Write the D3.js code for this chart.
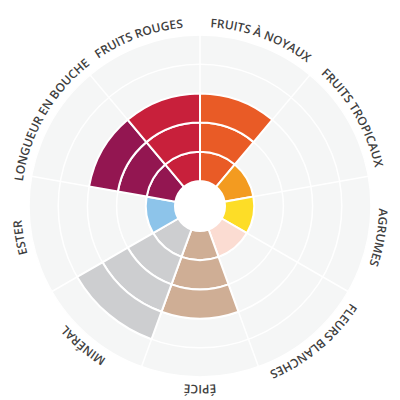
<!DOCTYPE html>
<html>
<head>
<meta charset="utf-8">
<script src="https://cdn.jsdelivr.net/npm/d3@7"></script>
<style>
  html, body { margin: 0; padding: 0; background: #fff; }
  svg { display: block; }
  .label { font-family: 'Open Sans', sans-serif; font-size: 12px; font-weight: 600; fill: #3f3f3f; }
</style>
</head>
<body>
<script>
var categories = ['FRUITS À NOYAUX', 'FRUITS TROPICAUX', 'AGRUMES', 'FLEURS BLANCHES', 'ÉPICÉ',
    'MINÉRAL', 'ESTER', 'LONGUEUR EN BOUCHE', 'FRUITS ROUGES']
var values = [3, 1, 1, 1, 3, 4, 1, 3, 3]
var colors = ['#e95b26', '#f39b20', '#fddd27', '#fbdcd2', '#cfae95',
    '#cdced0', '#8dc4ea', '#931651', '#c8203b']
var levels = [1, 2, 3, 4, 5]

var width = 400
var height = 400
var cx = 200
var cy = 206
var inner = 25
var outer = 171
var labelR = 179

var angle = d3.scaleBand()
    .domain(categories)
    .range([0, 2 * Math.PI])
    .padding(0)

var radius = d3.scaleLinear()
    .domain([0, 5])
    .range([inner, outer])

var svg = d3.select('body').append('svg')
    .attr('width', width)
    .attr('height', height)
    .append('g')
    .attr('transform', 'translate(' + cx + ',' + cy + ')')

// background disc
svg.append('circle')
    .attr('r', outer)
    .style('fill', '#f5f6f6')

// grid rings
svg.append('g')
    .selectAll('circle')
    .data(levels)
    .enter().append('circle')
    .attr('r', function(d) { return radius(d) })
    .style('fill', 'none')
    .style('stroke', '#fff')
    .style('stroke-width', 1.5)

// spokes
svg.append('g')
    .selectAll('line')
    .data(categories)
    .enter().append('line')
    .attr('x1', function(d) { return Math.sin(angle(d)) * inner })
    .attr('y1', function(d) { return -Math.cos(angle(d)) * inner })
    .attr('x2', function(d) { return Math.sin(angle(d)) * outer })
    .attr('y2', function(d) { return -Math.cos(angle(d)) * outer })
    .style('stroke', '#fff')
    .style('stroke-width', 1.5)

// one cell per level reached
var cells = []
categories.forEach(function(c, i) {
    for (var l = 0; l < values[i]; l++) {
        cells.push({ cat: c, color: colors[i], from: l, to: l + 1 })
    }
})

var arc = d3.arc()
    .innerRadius(function(d) { return radius(d.from) })
    .outerRadius(function(d) { return radius(d.to) })
    .startAngle(function(d) { return angle(d.cat) })
    .endAngle(function(d) { return angle(d.cat) + angle.bandwidth() })

svg.append('g')
    .selectAll('path')
    .data(cells)
    .enter().append('path')
    .attr('d', arc)
    .style('fill', function(d) { return d.color })
    .style('stroke', '#fff')
    .style('stroke-width', 2)

svg.append('circle')
    .attr('r', inner)
    .style('fill', '#fff')

// curved labels
svg.append('path')
    .attr('id', 'labelPath')
    .attr('d', 'M0,' + (-labelR) + 'A' + labelR + ',' + labelR + ' 0 1 1 0,' + labelR +
        'A' + labelR + ',' + labelR + ' 0 1 1 0,' + (-labelR))
    .style('fill', 'none')

svg.append('g')
    .selectAll('text')
    .data(categories)
    .enter().append('text')
    .attr('class', 'label')
    .append('textPath')
    .attr('href', '#labelPath')
    .attr('text-anchor', 'middle')
    .attr('startOffset', function(d) {
        return ((angle(d) + angle.bandwidth() / 2) / (2 * Math.PI) * 100) + '%'
    })
    .text(function(d) { return d })
</script>
</body>
</html>
